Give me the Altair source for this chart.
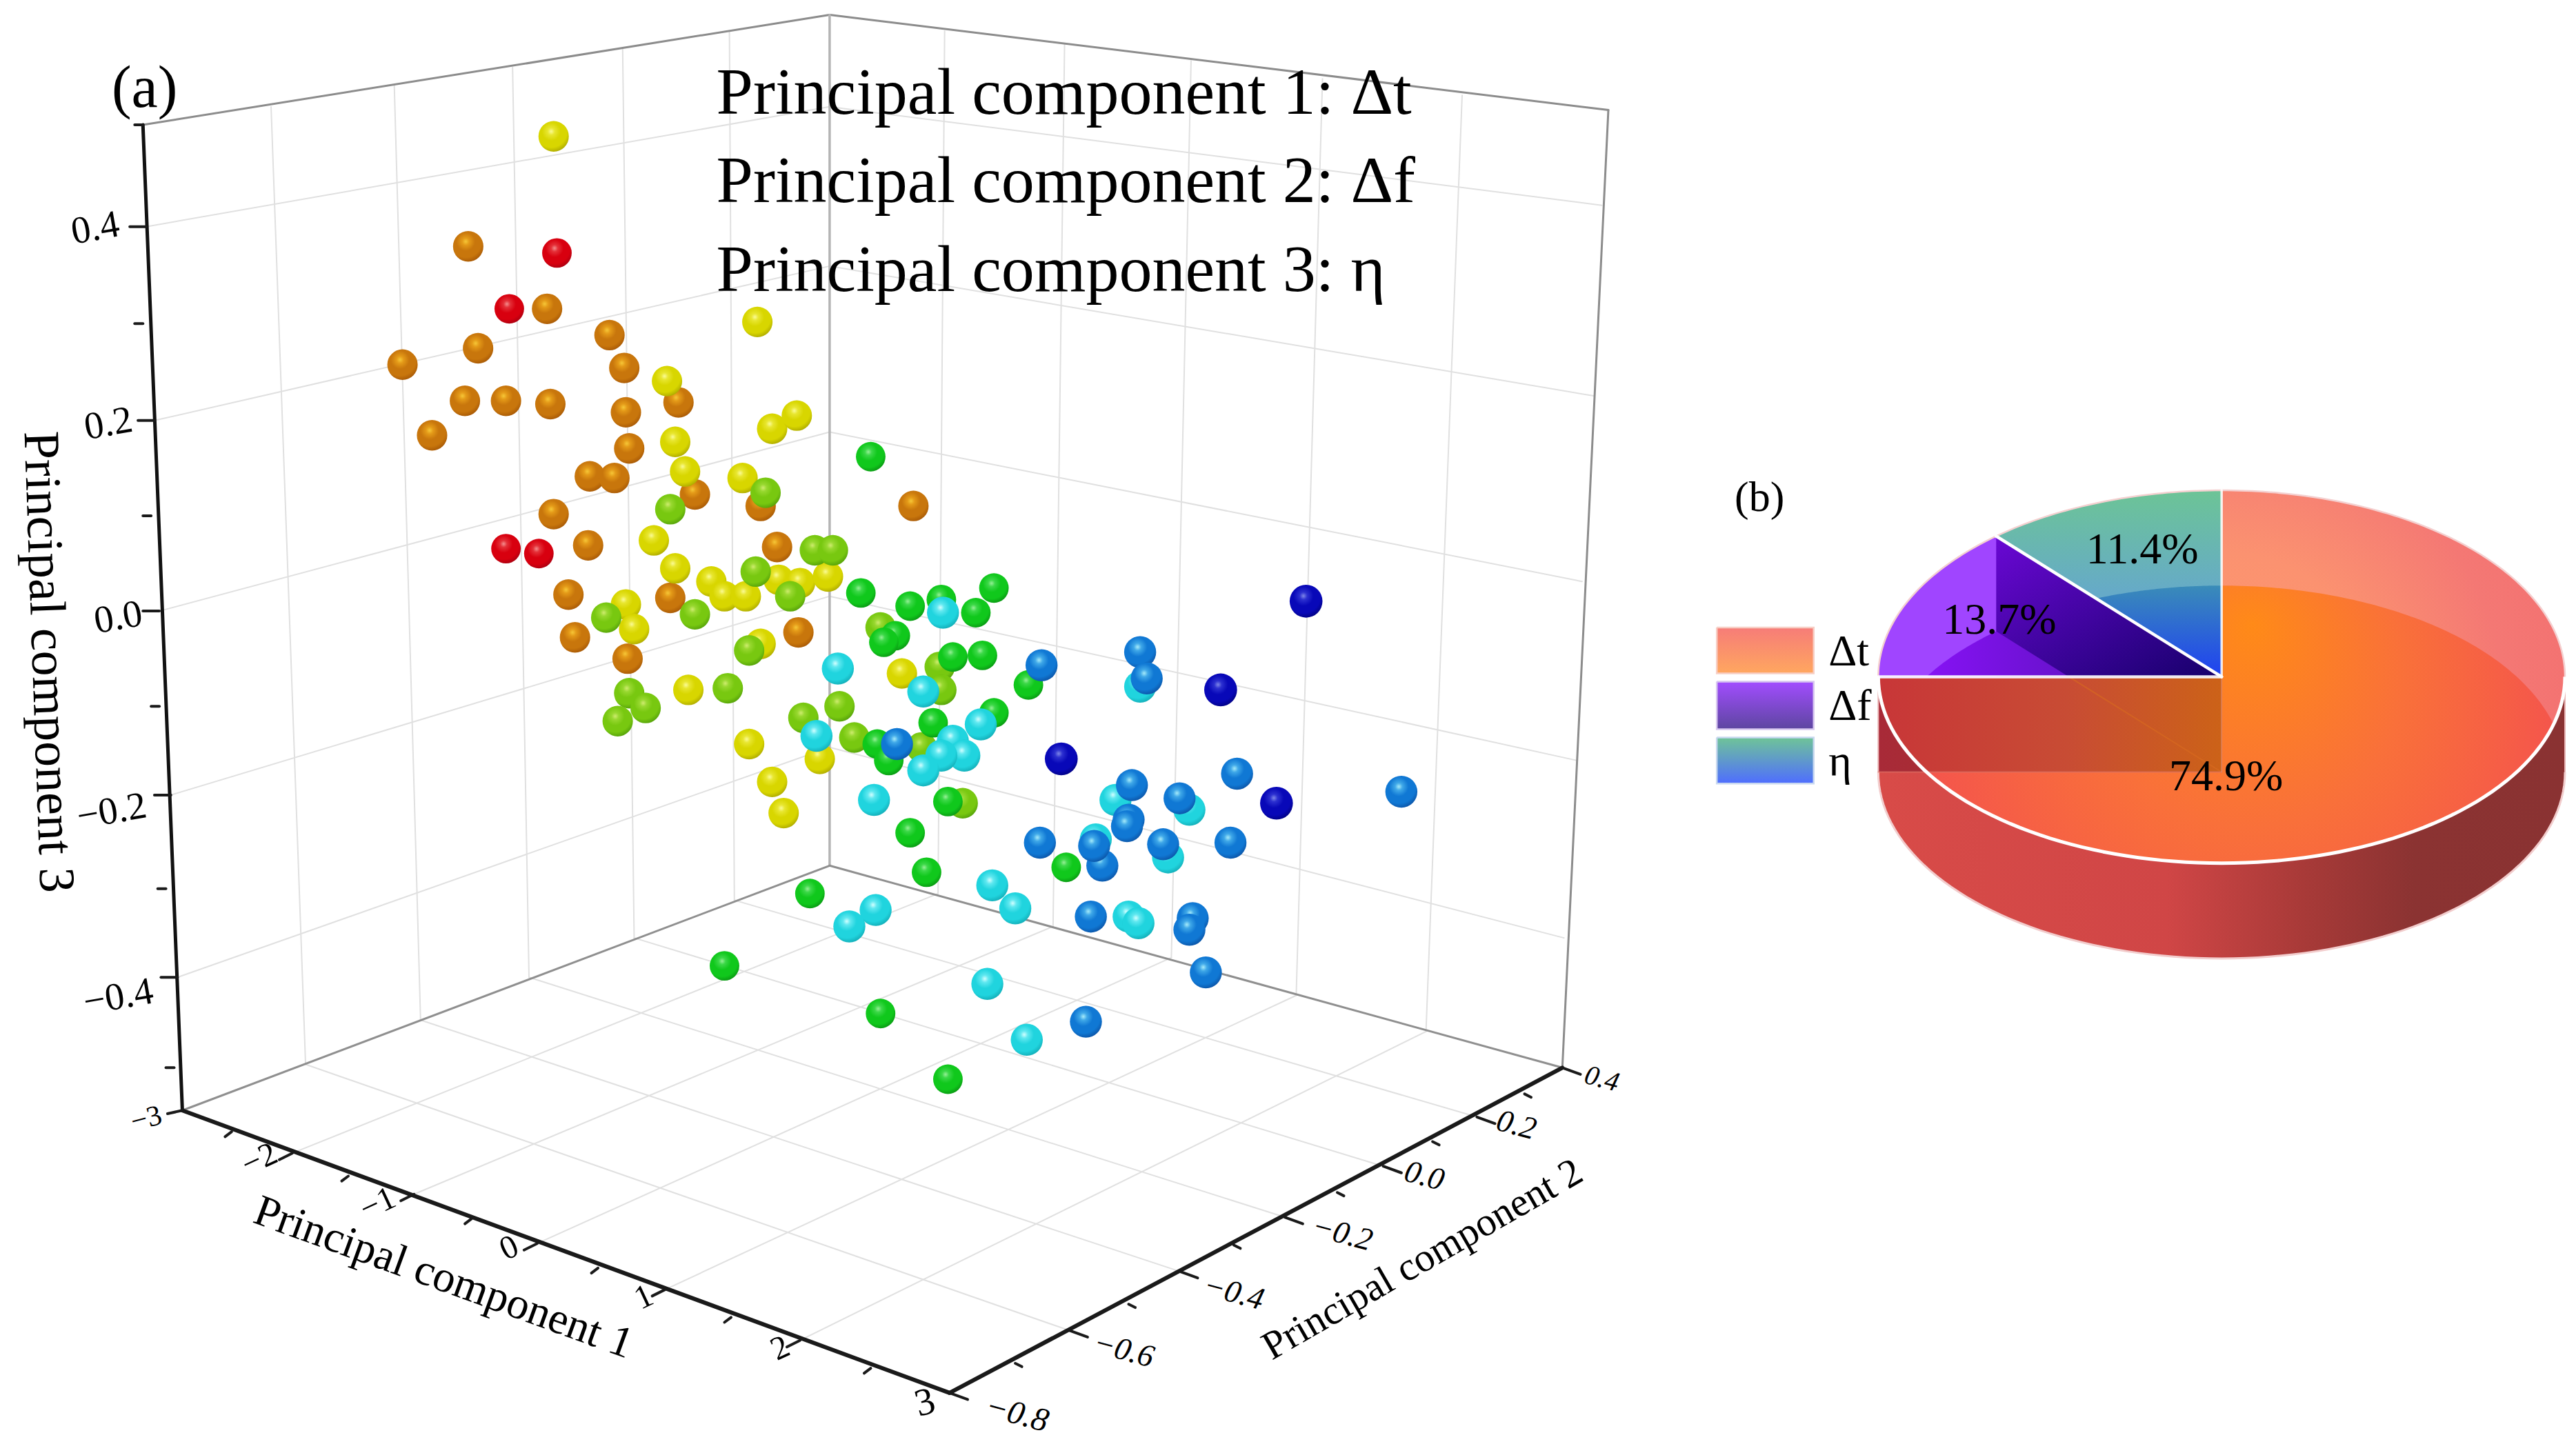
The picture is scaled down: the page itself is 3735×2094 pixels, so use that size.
import math
import pandas as pd
import altair as alt

# ---- projected positions of the spheres ----
RED = [(339,154),(310,188),(308,334),(328,337)]
ORANGE = [(285,150),(333,188),(371,204),(291,212),(245,222),(380,224),(413,245),(283,244),(308,244),(335,246),(381,251),(263,265),(383,273),(359,290),(374,291),(463,308),(423,301),(337,313),(358,332),(473,333),(346,362),(408,364),(350,388),(486,385),(382,401),(556,308)]
YELLOW = [(337,83),(461,196),(406,232),(411,269),(470,261),(485,253),(417,287),(452,291),(398,329),(411,346),(433,354),(474,353),(487,355),(504,351),(441,363),(454,363),(381,368),(386,383),(463,392),(419,420),(549,410),(456,453),(499,462),(470,476),(477,495)]
LIME = [(466,300),(408,310),(496,335),(507,335),(460,348),(481,363),(369,376),(423,374),(456,396),(443,419),(383,422),(393,431),(376,439),(489,437),(511,430),(536,382),(572,406),(573,420),(520,449),(561,455),(586,489)]
GREEN = [(530,278),(524,361),(554,369),(573,365),(594,373),(605,358),(545,387),(538,391),(626,417),(598,399),(580,400),(605,434),(568,440),(534,453),(541,463),(577,488),(554,507),(649,528),(564,531),(493,544),(441,588),(536,617),(577,657)]
CYAN = [(574,373),(510,407),(562,421),(597,441),(497,448),(580,451),(587,460),(573,460),(562,469),(532,487),(694,418),(679,487),(724,493),(667,511),(711,522),(604,539),(618,553),(533,554),(517,564),(687,558),(693,562),(601,599),(625,633)]
BLUE = [(634,405),(694,397),(698,413),(546,453),(753,471),(689,478),(718,486),(853,482),(687,499),(686,503),(633,513),(749,513),(671,527),(666,515),(708,514),(664,558),(726,559),(724,566),(734,592),(661,622)]
NAVY = [(795,366),(743,420),(646,462),(777,489)]

# ---- pie ----
PIE_NAMES = ["Δt", "Δf", "η"]
PIE_VALUES = [74.9, 13.7, 11.4]
PIE_LABELS = ["74.9%", "13.7%", "11.4%"]

# ---- axes ----
LEFT_MAJOR = [(89,138),(94,256),(97,372),(104,484),(108,595)]
LEFT_MINOR = [(87,197),(92,314),(97,430),(101,541),(106,650)]
LEFT_LABELS = ["0.4","0.2","0.0","−0.2","−0.4"]
LEFT_LABEL_POS = [(58,139),(66,258),(72,376),(68,494),(72,607)]
BACK_LEVELS = [65,162,263,363,455]
RIGHT_LEVELS = [(975,125),(970,241),(963,354),(960,463),(952,571)]
FRONT_L_MAJOR = [(178,702),(252,727),(327,757),(405,785),(487,816)]
FRONT_L_MINOR = [(141,689),(212,716),(287,742),(364,772),(445,802),(530,833)]
FRONT_L_LABELS = ["−2","−1","0","1","2"]
FRONT_L_LABEL_POS = [(158,706),(230,733),(310,760),(392,790),(475,821)]
FRONT_R_MAJOR = [(899,680),(842,710),(782,741),(718,774),(651,810)]
FRONT_R_MINOR = [(928,666),(872,695),(814,726),(751,758),(687,794),(618,830)]
FRONT_R_LABELS = ["0.2","0.0","−0.2","−0.4","−0.6"]
FRONT_R_LABEL_POS = [(923,685),(867,716),(817,751),(751,787),(684,822)]
LEFT_WALL_BOTTOM = [(186,648),(256,621),(322,595),(386,571),(447,548)]
LEFT_WALL_TOP = [(165,65),(240,52),(312,41),(379,30),(444,19)]
RIGHT_WALL_BOTTOM = [(571,544),(641,564),(713,583),(789,606),(868,628)]
RIGHT_WALL_TOP = [(575,19),(648,27),(725,37),(805,48),(890,58)]

C_TL, C_TB, C_TR = (87,76), (505,9), (979,67)
C_BL, C_BB, C_BR, C_BF = (111,676), (505,527), (951,650), (578,848)

P = 2.382
W, H = 3719, 2078
xs = alt.Scale(domain=[8/P, (8+W)/P], nice=False, zero=False)
ys = alt.Scale(domain=[(8+H)/P, 8/P], nice=False, zero=False)
X = lambda f: alt.X(f, type="quantitative", scale=xs, axis=None)
Y = lambda f: alt.Y(f, type="quantitative", scale=ys, axis=None)

def segs(pairs, color, width, opacity=1):
    df = pd.DataFrame([{"x":a[0],"y":a[1],"x2":b[0],"y2":b[1]} for a,b in pairs])
    return alt.Chart(df).mark_rule(color=color, strokeWidth=width, opacity=opacity, strokeCap="round").encode(
        x=X("x"), y=Y("y"), x2=alt.X2("x2"), y2=alt.Y2("y2"))

def label(t, x, y, size, angle=0, font="Liberation Serif", style="normal", align="center"):
    df = pd.DataFrame([{"x":x,"y":y,"t":t}])
    return alt.Chart(df).mark_text(fontSize=size, angle=angle % 360, font=font, fontStyle=style,
                                   align=align, baseline="middle", color="#000000").encode(
        x=X("x"), y=Y("y"), text="t:N")

def poly(pts, fill, opacity=1):
    df = pd.DataFrame([{"x":p[0],"y":p[1],"o":i} for i,p in enumerate(pts)])
    return alt.Chart(df).mark_line(fill=fill, strokeWidth=0, interpolate="linear-closed", fillOpacity=opacity).encode(
        x=X("x"), y=Y("y"), order=alt.Order("o:Q"))

def path(pts, color, width):
    df = pd.DataFrame([{"x":p[0],"y":p[1],"o":i} for i,p in enumerate(pts)])
    return alt.Chart(df).mark_line(color=color, strokeWidth=width).encode(
        x=X("x"), y=Y("y"), order=alt.Order("o:Q"))

def lin(stops, x1=0, y1=0, x2=0, y2=1):
    return alt.LinearGradient(gradient="linear", x1=x1, y1=y1, x2=x2, y2=y2,
        stops=[alt.GradientStop(offset=o, color=c) for o,c in stops])

def rad(stops, x1=.5, y1=.5, r1=0, x2=.5, y2=.5, r2=.5):
    return alt.RadialGradient(gradient="radial", x1=x1, y1=y1, r1=r1, x2=x2, y2=y2, r2=r2,
        stops=[alt.GradientStop(offset=o, color=c) for o,c in stops])

def sphere(points, hi, mid, base, dark, diam):
    g = rad([(0,hi),(.16,mid),(.42,base),(.72,base),(1,dark)], x1=.42, y1=.34, r1=0, x2=.42, y2=.34, r2=.72)
    df = pd.DataFrame(points, columns=["x","y"])
    size = (diam*P)**2
    return alt.Chart(df).mark_point(filled=True, shape="circle", fill=g, size=size, opacity=1, strokeWidth=0).encode(
        x=X("x"), y=Y("y"))

layers = []
# grid
grid = []
for (b,t) in zip(LEFT_WALL_BOTTOM, LEFT_WALL_TOP): grid.append((b,t))
for (b,t) in zip(RIGHT_WALL_BOTTOM, RIGHT_WALL_TOP): grid.append((b,t))
for (l,by) in zip(LEFT_MAJOR, BACK_LEVELS): grid.append((l,(505,by)))
for (r,by) in zip(RIGHT_LEVELS, BACK_LEVELS): grid.append((r,(505,by)))
for (a,b) in zip(FRONT_L_MAJOR, RIGHT_WALL_BOTTOM): grid.append((a,b))
for (a,b) in zip(FRONT_R_MAJOR, reversed(LEFT_WALL_BOTTOM)): grid.append((a,b))
layers.append(segs(grid, "#e0e0e0", 2))
# box
layers.append(segs([(C_TL,C_TB),(C_TB,C_TR),(C_TR,C_BR)], "#8c8c8c", 3))
layers.append(segs([(C_TB,C_BB)], "#b4b4b4", 3.5))
layers.append(segs([(C_BL,C_BB),(C_BB,C_BR)], "#8f8f8f", 3))
layers.append(segs([(C_TL,C_BL)], "#111111", 5))
layers.append(segs([(C_BL,C_BF),(C_BF,C_BR)], "#1a1a1a", 6))
# ticks
lt = [((x-10,y),(x,y)) for x,y in LEFT_MAJOR] + [((x-5,y),(x,y)) for x,y in LEFT_MINOR] + [((C_TL[0]-5,C_TL[1]),C_TL),((C_BL[0]-9,C_BL[1]+2),C_BL)]
lt += [((x-8,y+4),(x,y)) for x,y in FRONT_L_MAJOR] + [((x-4,y+3),(x,y)) for x,y in FRONT_L_MINOR]
lt += [((x+11,y+4),(x,y)) for x,y in FRONT_R_MAJOR+[C_BR,C_BF]] + [((x+4,y+2),(x,y)) for x,y in FRONT_R_MINOR]
layers.append(segs(lt, "#1a1a1a", 4))

# spheres
layers.append(sphere(ORANGE, "#f6c838", "#e49a18", "#c8760c", "#a05204", 18.5))
layers.append(sphere(RED, "#f49090", "#e43038", "#d8000f", "#a00010", 18))
layers.append(sphere(YELLOW, "#fbfb98", "#e8e630", "#d8d600", "#a4a000", 18.5))
layers.append(sphere(LIME, "#d0ec70", "#98d830", "#78c810", "#4c9808", 18.5))
layers.append(sphere(GREEN, "#98f098", "#3cd848", "#10c81c", "#088c10", 18))
layers.append(sphere(CYAN, "#d4ffff", "#60e8f0", "#20d4de", "#10a4ae", 19.5))
layers.append(sphere(BLUE, "#a8ecfa", "#3fa8e8", "#1078d4", "#0a4c9c", 19.5))
layers.append(sphere(NAVY, "#8088e8", "#2c30d0", "#0808b8", "#000078", 20))

# texts of (a)
layers.append(label("(a)", 88, 54, 86))
for t,y in zip(["Principal component 1: Δt","Principal component 2: Δf","Principal component 3: η"],[57,111,165]):
    layers.append(label(t, 436, y, 96, align="left"))
layers.append(label("Principal component 1", 270, 778, 64, 20))
layers.append(label("Principal component 2", 866, 767, 58, -30))
layers.append(label("Principal component 3", 29, 403, 74, 88))
for t,(x,y) in zip(LEFT_LABELS, LEFT_LABEL_POS):
    layers.append(label(t, x, y, 56, -10))
layers.append(label("−3", 89, 681, 42, -15))
for t,(x,y) in zip(FRONT_L_LABELS, FRONT_L_LABEL_POS):
    layers.append(label(t, x, y, 48, -25))
layers.append(label("3", 563, 854, 56, -15))
for t,(x,y) in zip(FRONT_R_LABELS, FRONT_R_LABEL_POS):
    layers.append(label(t, x, y, 46, 15, style="italic"))
layers.append(label("0.4", 975, 657, 40, 15, style="italic"))
layers.append(label("−0.8", 619, 861, 48, 15, style="italic"))

# ---- pie (b) ----
cx, cy, rx, ry, d = 1352.3, 412, 209, 113.5, 58
def arc(a0, a1, oy=0, n=90):
    out = []
    for i in range(n+1):
        a = math.radians(a0 + (a1-a0)*i/n)
        out.append((cx + rx*math.sin(a), cy + oy - ry*math.cos(a)))
    return out
total = sum(PIE_VALUES)
a_red = 360*PIE_VALUES[0]/total
a_pur = a_red + 360*PIE_VALUES[1]/total
C = (cx, cy)
LC = (cx, cy+d)
# outer wall
layers.append(poly(arc(90,270,d) + arc(270,90,0),
    lin([(0,"#d84b48"),(.42,"#d04646"),(.62,"#a83a38"),(.78,"#8b3332"),(1,"#8a3232")],x2=1,y2=0)))
# red top sector
layers.append(poly([C]+arc(0,a_red), rad([(0,"#fe9a6e"),(.42,"#fb9270"),(.75,"#f47874"),(1,"#f37070")], y1=.55,y2=.55,r2=.55)))
# lens of the lower red face seen through the top face
a_low = math.degrees(math.acos((d/2)/ry))
a_up = 180 - a_low
a_left = 360 - math.degrees(math.acos(-d/ry))
lens = arc(0, a_low, d) + arc(a_up, a_left, 0) + [LC]
layers.append(poly(lens, rad([(0,"#ff8a18"),(.45,"#f9703a"),(1,"#f34f50")], x1=.52,y1=.34,x2=.5,y2=.5,r2=.56)))
# inner wall below the left radius
layers.append(poly([C,(cx-rx,cy),(cx-rx,cy+d),LC], lin([(0,"#a82a38"),(1,"#a83a20")],x2=1,y2=0)))
layers.append(poly([C]+arc(270,a_left)+[LC], lin([(0,"#c83638"),(.55,"#c84c34"),(1,"#cc6218")],x2=1,y2=0)))
# purple
pur = arc(a_red,a_pur)
layers.append(poly([C]+pur, "#a045ff"))
P_TIP = pur[-1]
layers.append(poly([C,(P_TIP[0],cy),P_TIP], lin([(0,"#6a08d4"),(1,"#16006a")],x1=0,y1=0,x2=1,y2=1)))
lo_tip = (P_TIP[0],P_TIP[1]+d)
t = (cy-lo_tip[1])/(cy+d-lo_tip[1])
lo_arc = [p for p in arc(a_red,a_pur,d) if p[1] <= cy]
layers.append(poly([lo_tip]+lo_arc[::-1][1:]+[(lo_tip[0]+(cx-lo_tip[0])*t,cy)], lin([(0,"#8612f4"),(1,"#6812cc")],x2=1,y2=0)))
# green
layers.append(poly([C]+arc(a_pur,360), lin([(0,"#6cc496"),(.55,"#66aac8"),(1,"#66aac8")])))
# lower green face: points of the lower ellipse to the right of the radius to the purple tip
k = (P_TIP[0]-cx)/(P_TIP[1]-cy)
lo_green = [p for p in arc(a_pur,360,d,n=120) if p[0] >= cx + k*(p[1]-cy)]
layers.append(poly([C]+lo_green, lin([(0,"#3a8cb8"),(1,"#1f40f2")])))
# outlines
layers.append(path(arc(90,270,d), "#f2cdcd", 3))
layers.append(path([(cx-rx,cy),(cx-rx,cy+d)], "#e8b4b4", 2))
layers.append(path([(cx+rx,cy),(cx+rx,cy+d)], "#e8b4b4", 2))
layers.append(path(arc(270,360), "#f4d0d0", 2.5))
layers.append(path(arc(0,90), "#f4d0d0", 2.5))
layers.append(segs([((lo_tip[0]+(cx-lo_tip[0])*t,cy),LC)], "#d86a20", 2, .6))
layers.append(segs([(LC,(cx-rx,cy+d))], "#e27a6a", 2, .6))
layers.append(segs([(LC,C)], "#e08a70", 2, .6))
layers.append(path(arc(90,270), "#ffffff", 5))
layers.append(segs([(C,(cx,cy-ry))], "#ffffff", 3.5, .85))
layers.append(segs([(C,(cx-rx,cy))], "#ffffff", 4.5, .9))
layers.append(segs([(C,P_TIP)], "#ffffff", 4.5))

# labels of pie
layers.append(label("(b)", 1071, 303, 62))
layers.append(label(PIE_LABELS[0], 1355, 473, 64))
layers.append(label(PIE_LABELS[1], 1217, 378, 64))
layers.append(label(PIE_LABELS[2], 1304, 335, 64))

# legend
swatches = [(382,410,"#f67c78","#ffa75f","#f7cfc5"),(415,444,"#a24dff","#5d46a0","#d8c8f0"),(449,477,"#6fc498","#4f6dff","#c8d8f0")]
for (y0,y1,c0,c1,bd),name in zip(swatches,PIE_NAMES):
    layers.append(poly([(1045,y0),(1104,y0),(1104,y1),(1045,y1)], lin([(0,c0),(1,c1)])))
    layers.append(path([(1045,y0),(1104,y0),(1104,y1),(1045,y1),(1045,y0)], bd, 2.5))
    layers.append(label(name, 1113, (y0+y1)/2+1, 64, align="left"))

chart = alt.layer(*layers).properties(
    width=W, height=H, padding=0, background="#ffffff",
    autosize=alt.AutoSizeParams(type="none"),
).configure_view(stroke=None)

chart.save("out.html", embed_options={"renderer": "svg", "actions": False})
